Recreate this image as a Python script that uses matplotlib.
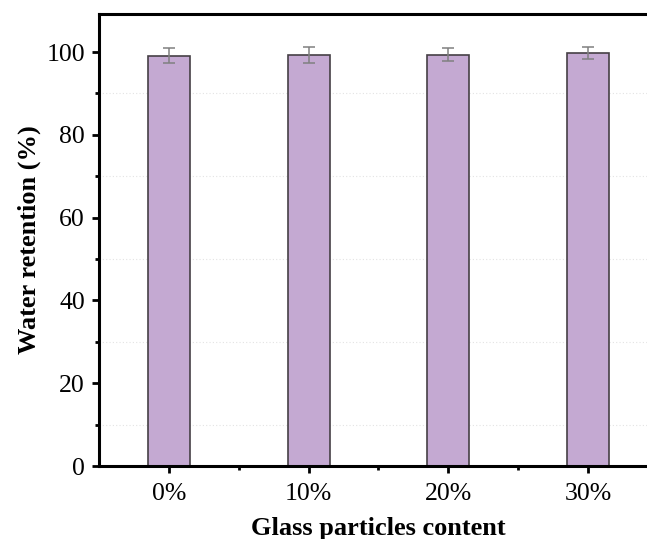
import matplotlib.pyplot as plt
from matplotlib.ticker import MultipleLocator, FixedLocator

# Water retention for each glass particle content
categories = ["0%", "10%", "20%", "30%"]
retention = [99.1, 99.3, 99.4, 99.8]
retention_err = [1.8, 2.0, 1.5, 1.5]

plt.rcParams['font.family'] = ['Liberation Serif', 'DejaVu Serif']

fig = plt.figure(figsize=(6.47, 5.39), dpi=100)
ax = fig.add_axes([0.153, 0.1354, 0.864, 0.8386])

x = list(range(len(categories)))
ax.bar(x, retention, width=0.3, color='#c4a9d2', edgecolor='#454045',
       linewidth=1.2, zorder=2)
ax.errorbar(x, retention, yerr=retention_err, fmt='none', ecolor='#808080',
            elinewidth=1.1, capsize=4.5, capthick=1.1, zorder=3)

ax.set_xlim(-0.5, 3.5)
ax.set_ylim(0, 109.2)
ax.set_xticks(x)
ax.set_xticklabels(categories)
ax.xaxis.set_minor_locator(FixedLocator([0.5, 1.5, 2.5]))
ax.yaxis.set_major_locator(MultipleLocator(20))
ax.yaxis.set_minor_locator(MultipleLocator(10))

ax.grid(which='minor', axis='y', color='#e3e3e3', linestyle=(0, (1, 2)),
        linewidth=0.8, zorder=0)

for side in ['left', 'bottom', 'top']:
    ax.spines[side].set_linewidth(2.2)
ax.spines['right'].set_visible(False)

ax.tick_params(which='major', direction='out', length=5, width=2.0,
               labelsize=18.5, pad=5)
ax.tick_params(which='minor', direction='out', length=3, width=2.0)
ax.tick_params(axis='x', which='major', pad=7)
ax.tick_params(axis='x', which='both', top=False)
ax.tick_params(axis='y', which='both', right=False)

ax.set_xlabel("Glass particles content", fontsize=19, fontweight='bold',
              labelpad=9)
ax.set_ylabel("Water retention (%)", fontsize=19, fontweight='bold',
              labelpad=4)

fig.savefig("out.png", dpi=100)
